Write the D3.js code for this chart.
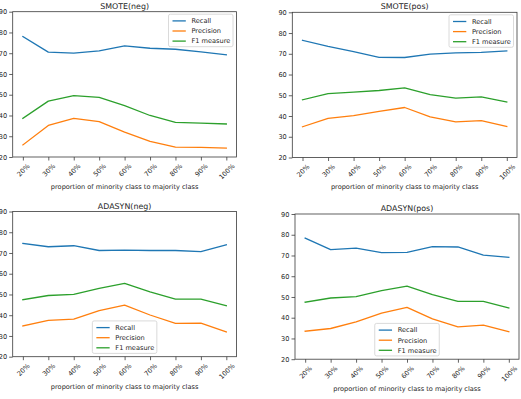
<!DOCTYPE html>
<html>
<head>
<meta charset="utf-8">
<script src="https://cdn.jsdelivr.net/npm/d3@7"></script>
<style>
  html, body { margin: 0; padding: 0; background: #fff; }
  svg { display: block; }
  text { font-family: "DejaVu Sans", sans-serif; fill: #262626; }
</style>
</head>
<body>
<svg id="chart" width="521" height="399"></svg>
<script>
// ---- data ----
const categories = ["20%", "30%", "40%", "50%", "60%", "70%", "80%", "90%", "100%"];
const yTicks = [20, 30, 40, 50, 60, 70, 80, 90];
const seriesNames = ["Recall", "Precision", "F1 measure"];
const seriesColors = ["#1f77b4", "#ff7f0e", "#2ca02c"];
const xLabel = "proportion of minority class to majority class";

const smoteNegRecall    = [78.0, 70.5, 70.0, 71.1, 73.5, 72.4, 71.9, 70.6, 69.2];
const smoteNegPrecision = [25.8, 35.2, 38.6, 37.0, 32.0, 27.5, 24.8, 24.6, 24.3];
const smoteNegF1        = [38.6, 46.9, 49.6, 48.7, 44.7, 40.0, 36.7, 36.3, 35.9];

const smotePosRecall    = [76.5, 73.6, 71.0, 68.3, 68.2, 69.8, 70.4, 70.7, 71.4];
const smotePosPrecision = [34.8, 38.9, 40.2, 42.2, 44.1, 39.6, 37.2, 37.8, 34.9];
const smotePosF1        = [47.8, 50.8, 51.5, 52.3, 53.6, 50.3, 48.6, 49.2, 46.8];

const adasynNegRecall    = [74.6, 73.0, 73.5, 71.2, 71.4, 71.2, 71.2, 70.7, 73.9];
const adasynNegPrecision = [34.8, 37.5, 38.1, 42.2, 44.9, 40.1, 36.1, 36.2, 31.9];
const adasynNegF1        = [47.5, 49.5, 50.0, 52.9, 55.3, 51.3, 47.8, 47.8, 44.6];

const adasynPosRecall    = [78.4, 72.8, 73.5, 71.4, 71.5, 74.3, 74.1, 70.2, 69.1];
const adasynPosPrecision = [33.5, 34.8, 38.0, 42.2, 45.0, 39.4, 35.6, 36.4, 33.3];
const adasynPosF1        = [47.5, 49.5, 50.2, 53.1, 55.2, 51.1, 47.9, 47.9, 44.7];

// ---- layout ----
const panels = [
  { title: "SMOTE(neg)",  series: [smoteNegRecall, smoteNegPrecision, smoteNegF1],
    x0: 12.7, x1: 236.5, y0: 11.7, y1: 157.0, legend: "upper right" },
  { title: "SMOTE(pos)",  series: [smotePosRecall, smotePosPrecision, smotePosF1],
    x0: 292.3, x1: 517.0, y0: 12.3, y1: 157.5, legend: "upper right" },
  { title: "ADASYN(neg)", series: [adasynNegRecall, adasynNegPrecision, adasynNegF1],
    x0: 12.7, x1: 236.5, y0: 211.5, y1: 356.7, legend: "lower center" },
  { title: "ADASYN(pos)", series: [adasynPosRecall, adasynPosPrecision, adasynPosF1],
    x0: 295.0, x1: 519.0, y0: 214.0, y1: 359.2, legend: "lower center" }
];

const FS = 6.6;
const svg = d3.select("#chart");

panels.forEach(p => {
  const g = svg.append("g");
  const x = d3.scalePoint().domain(categories).range([p.x0, p.x1]).padding(0.4);
  const y = d3.scaleLinear().domain([20, 90]).range([p.y1, p.y0]);

  // lines
  const line = d3.line().x((d, i) => x(categories[i])).y(d => y(d));
  p.series.forEach((s, k) => {
    g.append("path").datum(s)
      .attr("d", line)
      .attr("fill", "none")
      .attr("stroke", seriesColors[k])
      .attr("stroke-width", 1.3)
      .attr("stroke-linejoin", "round")
      .attr("stroke-linecap", "square");
  });

  // frame
  g.append("rect")
    .attr("x", p.x0).attr("y", p.y0)
    .attr("width", p.x1 - p.x0).attr("height", p.y1 - p.y0)
    .attr("fill", "none").attr("stroke", "#3a3a3a").attr("stroke-width", 0.8);

  // y axis
  const yAxis = d3.axisLeft(y).tickValues(yTicks).tickSize(3.5).tickPadding(2);
  const ya = g.append("g").attr("transform", `translate(${p.x0},0)`).call(yAxis);
  ya.select(".domain").remove();
  ya.selectAll(".tick line").attr("stroke", "#3a3a3a").attr("stroke-width", 0.8);
  ya.selectAll(".tick text").attr("font-size", FS).attr("font-family", "DejaVu Sans").attr("fill", "#262626");

  // x axis
  const xAxis = d3.axisBottom(x).tickSize(3.5).tickFormat("");
  const xa = g.append("g").attr("transform", `translate(0,${p.y1})`).call(xAxis);
  xa.select(".domain").remove();
  xa.selectAll(".tick line").attr("stroke", "#3a3a3a").attr("stroke-width", 0.8);
  xa.selectAll(".tick").each(function(d) {
    const t = d3.select(this).append("text")
      .attr("font-size", FS).attr("font-family", "DejaVu Sans")
      .attr("fill", "#262626")
      .attr("text-anchor", "middle")
      .attr("dy", "0.35em")
      .text(d);
    const w = t.node().getComputedTextLength();
    const h = FS * 0.9;
    const off = 3.5 + 2.3 + (w + h) * Math.SQRT1_2 / 2;
    t.attr("transform", `translate(0,${off}) rotate(-45)`);
  });

  // title
  g.append("text")
    .attr("x", (p.x0 + p.x1) / 2).attr("y", p.y0 - 3)
    .attr("text-anchor", "middle")
    .attr("font-size", 7.9)
    .text(p.title);

  // x label
  g.append("text")
    .attr("x", (p.x0 + p.x1) / 2).attr("y", p.y1 + 31.8)
    .attr("text-anchor", "middle")
    .attr("font-size", FS)
    .text(xLabel);

  // legend
  const lw = 64.5, lh = 32.5;
  let lx, ly;
  if (p.legend === "upper right") { lx = p.x1 - 3.5 - lw; ly = p.y0 + 2.5; }
  else { lx = (p.x0 + p.x1) / 2 - lw / 2; ly = p.y1 - 3.3 - lh; }
  const lg = g.append("g").attr("transform", `translate(${lx},${ly})`);
  lg.append("rect").attr("width", lw).attr("height", lh)
    .attr("rx", 1.8).attr("fill", "#fff").attr("fill-opacity", 0.85)
    .attr("stroke", "#d0d0d0").attr("stroke-width", 0.8);
  seriesNames.forEach((n, k) => {
    const cy = 6.7 + k * 10.1;
    lg.append("line").attr("x1", 4).attr("x2", 17.3).attr("y1", cy).attr("y2", cy)
      .attr("stroke", seriesColors[k]).attr("stroke-width", 1.3);
    lg.append("text").attr("x", 23).attr("y", cy).attr("dy", "0.35em")
      .attr("font-size", FS).text(n);
  });
});
</script>
</body>
</html>
